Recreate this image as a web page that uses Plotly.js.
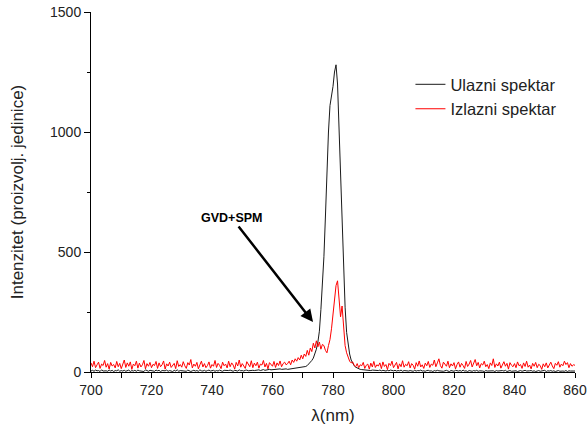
<!DOCTYPE html>
<html>
<head>
<meta charset="utf-8">
<script src="https://cdn.plot.ly/plotly-3.0.1.min.js"></script>
<style>html,body{margin:0;padding:0;background:#fff;}#chart{width:587px;height:429px;}</style>
</head>
<body>
<div id="chart"></div>
<script>
// Wavelength grid: 700 to 860 nm, 0.5 nm sampling
const lambdaStart = 700;
const lambdaStep = 0.5;

// Input spectrum ("Ulazni spektar"), arbitrary units
const ulazniSpektar = [
  4,7,3,8,5,6,2,9,4,6,
  5,3,8,4,7,2,6,5,9,3,
  6,4,7,3,5,8,2,6,4,7,
  3,8,5,4,6,2,9,5,3,7,
  6,4,3,8,5,7,2,6,4,5,
  8,3,6,5,2,7,4,9,3,6,
  5,7,4,3,8,6,2,5,7,4,
  6,3,9,5,4,7,3,6,8,4,
  5,7,3,6,4,8,5,3,7,6,
  4,6,8,5,3,7,6,4,9,5,
  6,4,7,8,5,6,9,7,6,8,
  7,9,6,8,10,7,9,8,11,9,
  10,9,12,10,11,13,11,12,14,13,
  11,12,12,13,13,14,14,15,16,17,
  18,20,23,27,33,40,48,58,75,95,
  125,170,260,360,480,650,850,1000,1110,1150,
  1190,1250,1280,1200,1000,820,600,430,270,165,
  110,75,50,35,26,20,16,13,11,10,
  9,
  8,9,7,8,6,8,7,5,7,6,
  8,5,7,6,4,7,5,8,6,5,
  7,4,6,5,8,3,6,5,7,4,
  6,5,3,7,4,6,5,8,4,5,
  3,6,7,4,5,2,6,4,7,5,
  4,6,3,5,7,4,2,6,5,3,
  7,5,4,6,3,8,4,5,2,6,
  5,3,6,4,7,3,5,6,4,2,
  6,4,5,3,7,5,2,6,4,5,
  3,6,4,7,2,5,6,3,4,6,
  5,2,4,6,3,5,7,4,3,5,
  6,3,5,2,4,6,3,5,4,7,
  2,5,4,6,3,5,2,4,6,3,
  5,4,3,6,2,5,4,3,5,4
];

// Output spectrum ("Izlazni spektar"), arbitrary units
const izlazniSpektar = [
  38,22,45,18,30,41,15,33,27,48,
  20,35,12,40,25,31,17,44,22,36,
  14,29,50,19,38,24,42,11,33,26,
  45,16,37,21,30,48,13,35,24,40,
  18,32,27,44,15,38,22,30,46,12,
  34,25,41,19,28,36,14,47,23,31,
  20,43,26,15,39,29,52,17,33,24,
  40,13,30,45,21,35,18,27,42,16,
  31,24,48,19,36,28,14,41,26,33,
  17,45,22,38,29,12,40,25,50,20,
  35,27,15,43,31,22,47,18,37,26,
  41,16,33,29,48,21,36,13,39,30,
  24,44,19,38,27,46,22,35,41,30,
  35,45,30,50,40,55,45,60,50,70,
  55,75,65,90,70,100,85,120,100,130,
  105,125,95,115,110,90,80,110,135,180,
  240,300,360,380,290,230,275,170,110,80,
  60,45,38,42,28,
  22,35,18,30,26,
  40,15,28,33,12,37,21,44,19,30,
  25,38,14,42,23,31,10,36,27,45,
  18,29,40,13,34,22,47,20,32,26,
  43,17,35,28,12,39,24,46,21,30,
  15,37,26,44,19,33,28,50,22,38,
  55,27,16,41,30,24,45,18,34,25,
  39,13,31,42,20,36,27,15,44,23,
  33,48,21,38,52,26,40,17,35,29,
  45,22,31,14,38,27,55,19,34,25,
  41,16,30,43,24,36,12,39,28,22,
  35,18,42,26,31,15,38,23,45,20,
  29,13,36,24,40,18,32,27,11,34,
  22,38,17,30,41,25,14,36,28,43,
  20,33,26,45,31,39,18,35,24,30,
  28
];

const seriesNames = ["Ulazni spektar", "Izlazni spektar"];
const xTitle = "λ(nm)";
const yTitle = "Intenzitet (proizvolj. jedinice)";
const annotationText = "GVD+SPM";
const annotationTip = [773.4, 208];
const annotationTail = [746.6, 642];

const lambda = ulazniSpektar.map((_, i) => lambdaStart + i * lambdaStep);

const font = "Liberation Sans, Arial, sans-serif";

const traces = [
  {x: lambda, y: ulazniSpektar, name: seriesNames[0], type: "scatter", mode: "lines",
   line: {color: "#1a1a1a", width: 1}},
  {x: lambda, y: izlazniSpektar, name: seriesNames[1], type: "scatter", mode: "lines",
   line: {color: "#ff0000", width: 1}}
];

const layout = {
  width: 587, height: 429, autosize: false,
  margin: {l: 91, r: 12, t: 12, b: 57},
  paper_bgcolor: "#fff", plot_bgcolor: "#fff",
  font: {family: font, size: 14, color: "#222"},
  showlegend: true,
  legend: {x: 0.66, y: 0.847, xanchor: "left", yanchor: "top",
           font: {family: font, size: 16.5, color: "#222"},
           bgcolor: "rgba(0,0,0,0)", borderwidth: 0},
  xaxis: {range: [700, 860], showgrid: false, zeroline: false,
          showline: true, linecolor: "#000", linewidth: 1,
          ticks: "outside", ticklen: 5, tickcolor: "#000", dtick: 20, tick0: 700,
          minor: {dtick: 10, ticks: "outside", ticklen: 5, tickcolor: "#000"},
          tickfont: {family: font, size: 14, color: "#222"},
          title: {text: xTitle, font: {family: font, size: 17, color: "#222"}, standoff: 12}},
  yaxis: {range: [0, 1500], showgrid: false, zeroline: false,
          showline: true, linecolor: "#000", linewidth: 1,
          ticks: "outside", ticklen: 6, tickcolor: "#000", dtick: 500, tick0: 0,
          minor: {dtick: 250, ticks: "outside", ticklen: 3, tickcolor: "#000"},
          tickfont: {family: font, size: 14, color: "#222"},
          title: {text: yTitle, font: {family: font, size: 17, color: "#222"}, standoff: 22}},
  annotations: [{
    x: annotationTip[0], y: annotationTip[1], xref: "x", yref: "y",
    ax: annotationTail[0], ay: annotationTail[1], axref: "x", ayref: "y",
    text: "<b>" + annotationText + "</b>", showarrow: true,
    arrowhead: 2, arrowsize: 1, arrowwidth: 2.5, arrowcolor: "#000",
    font: {family: font, size: 12.5, color: "#000"}
  }]
};

Plotly.newPlot("chart", traces, layout, {displayModeBar: false, staticPlot: true});
</script>
</body>
</html>
